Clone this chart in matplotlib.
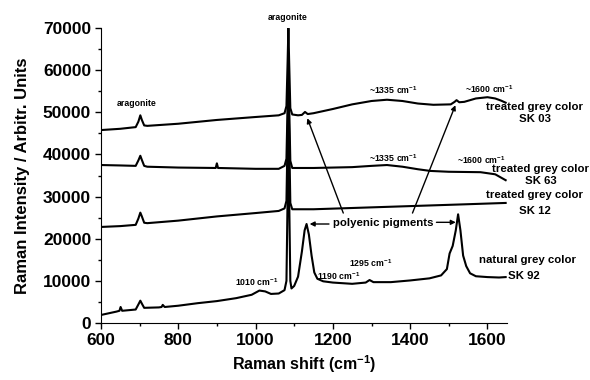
import matplotlib
matplotlib.use('Agg')
import matplotlib.pyplot as plt
from matplotlib.ticker import MultipleLocator

plt.rcParams['font.family'] = 'Liberation Sans'
plt.rcParams['font.weight'] = 'bold'
plt.rcParams['mathtext.fontset'] = 'custom'
plt.rcParams['mathtext.rm'] = 'Liberation Sans:bold'
plt.rcParams['mathtext.it'] = 'Liberation Sans:bold'
plt.rcParams['mathtext.default'] = 'rm'

# SK 03 - treated grey color (top)
sk03_x = [600, 650, 690, 697, 702, 706, 712, 720, 800, 900, 1000, 1060, 1075, 1080, 1083, 1085,
          1087, 1090, 1095, 1110, 1120, 1128, 1135, 1150, 1200, 1250, 1300, 1340, 1380, 1420,
          1460, 1505, 1515, 1520, 1527, 1540, 1570, 1600, 1620, 1635, 1647]
sk03_y = [45800, 46100, 46500, 47800, 49300, 48200, 46900, 46800, 47300, 48200, 48900, 49300, 49800,
          51500, 62000, 70000, 62000, 51000, 49500, 49300, 49400, 50100, 49600, 49800, 50800, 51900,
          52700, 53000, 52700, 52100, 51800, 51900, 52500, 52900, 52400, 52500, 53300, 53600, 53300,
          52800, 52300]

# SK 63 - treated grey color
sk63_x = [600, 650, 690, 697, 702, 706, 712, 720, 800, 897, 900, 903, 1000, 1060, 1075, 1080, 1083,
          1085, 1087, 1090, 1095, 1150, 1250, 1300, 1340, 1380, 1420, 1452, 1500, 1582, 1620, 1647]
sk63_y = [37500, 37400, 37300, 38600, 39700, 38700, 37300, 37100, 36900, 36800, 37900, 36800, 36600,
          36600, 37300, 39000, 52000, 62000, 52000, 38500, 36800, 36800, 37000, 37300, 37500, 37100,
          36500, 36100, 35900, 35800, 35300, 33900]

# SK 12 - treated grey color
sk12_x = [600, 650, 690, 697, 702, 706, 712, 720, 800, 900, 1000, 1060, 1075, 1080, 1083, 1085,
          1087, 1090, 1095, 1150, 1250, 1350, 1450, 1550, 1647]
sk12_y = [22800, 23000, 23300, 24800, 26200, 25300, 23800, 23700, 24300, 25300, 26100, 26600, 27200,
          29000, 45000, 55000, 45000, 28500, 27000, 27000, 27300, 27600, 27900, 28200, 28500]

# SK 92 - natural grey color
sk92_x = [600, 640, 648, 651, 655, 690, 697, 702, 706, 712, 750, 757, 760, 765, 800, 850, 900, 950,
          990, 1010, 1025, 1040, 1060, 1075, 1080, 1083, 1085, 1087, 1090, 1093, 1100, 1110, 1120,
          1127, 1132, 1138, 1145, 1152, 1160, 1175, 1200, 1250, 1285, 1295, 1305, 1350, 1400, 1450,
          1480, 1495, 1502, 1510, 1518, 1524, 1530, 1537, 1545, 1555, 1570, 1600, 1630, 1647]
sk92_y = [1900, 2700, 2900, 3800, 2900, 3200, 4400, 5300, 4600, 3600, 3700, 3800, 4300, 3800, 4100,
          4700, 5200, 5900, 6700, 7700, 7500, 6900, 7000, 7800, 10000, 30000, 45000, 30000, 10000,
          8200, 8800, 11000, 17000, 22000, 23500, 21000, 16000, 12000, 10500, 9900, 9600, 9300, 9600,
          10200, 9700, 9700, 10100, 10600, 11300, 12800, 16500, 18300, 22000, 25800, 22000, 16000,
          13500, 11800, 11100, 10900, 10800, 10900]

fig = plt.figure(figsize=(5.9, 3.8), dpi=100)
ax = fig.add_axes([0.171, 0.150, 0.688, 0.776])

for xs, ys in [(sk92_x, sk92_y), (sk12_x, sk12_y), (sk63_x, sk63_y), (sk03_x, sk03_y)]:
    ax.plot(xs, ys, color='black', lw=1.5)

ax.set_xlim(600, 1650)
ax.set_ylim(0, 70000)
ax.spines['top'].set_visible(False)
ax.spines['right'].set_visible(False)
ax.xaxis.set_major_locator(MultipleLocator(200))
ax.xaxis.set_minor_locator(MultipleLocator(100))
ax.yaxis.set_major_locator(MultipleLocator(10000))
ax.yaxis.set_minor_locator(MultipleLocator(5000))
ax.tick_params(which='major', length=4, width=1, labelsize=12.5, pad=3)
ax.tick_params(which='minor', length=2.5, width=1)
ax.set_xlabel('Raman shift (cm$^{-1}$)', fontsize=11.5, fontweight='bold', labelpad=4)
ax.set_ylabel('Raman Intensity / Arbitr. Units', fontsize=12, fontweight='bold', labelpad=9)

small = dict(fontsize=6.3, fontweight='bold', ha='center', va='center', clip_on=False)
mid = dict(fontsize=8.2, fontweight='bold', ha='center', va='center', clip_on=False)

ax.text(693, 52000, 'aragonite', **small)
ax.text(1082, 72600, 'aragonite', **small)
ax.text(1356, 55300, '~1335 cm$^{-1}$', **small)
ax.text(1605, 55500, '~1600 cm$^{-1}$', **small)
ax.text(1356, 39150, '~1335 cm$^{-1}$', **small)
ax.text(1585, 38600, '~1600 cm$^{-1}$', **small)
ax.text(1004, 9700, '1010 cm$^{-1}$', **small)
ax.text(1214, 11150, '1190 cm$^{-1}$', **small)
ax.text(1297, 14200, '1295 cm$^{-1}$', **small)

ax.text(1722, 51200, 'treated grey color', **mid)
ax.text(1722, 48400, 'SK 03', **mid)
ax.text(1737, 36500, 'treated grey color', **mid)
ax.text(1737, 33700, 'SK 63', **mid)
ax.text(1722, 30500, 'treated grey color', **mid)
ax.text(1722, 26600, 'SK 12', **mid)
ax.text(1704, 14950, 'natural grey color', **mid)
ax.text(1694, 11150, 'SK 92', **mid)
ax.text(1330, 23700, 'polyenic pigments', **mid)

arrow = dict(arrowstyle='-|>', color='black', lw=1.0, mutation_scale=7, shrinkA=0, shrinkB=0)
ax.annotate('', xy=(1140, 23500), xytext=(1190, 23500), arrowprops=arrow)
ax.annotate('', xy=(1518, 23900), xytext=(1468, 23900), arrowprops=arrow)
ax.annotate('', xy=(1134, 48600), xytext=(1227, 26100), arrowprops=arrow)
ax.annotate('', xy=(1517, 51700), xytext=(1406, 26100), arrowprops=arrow)

fig.savefig('out.png', dpi=100)
